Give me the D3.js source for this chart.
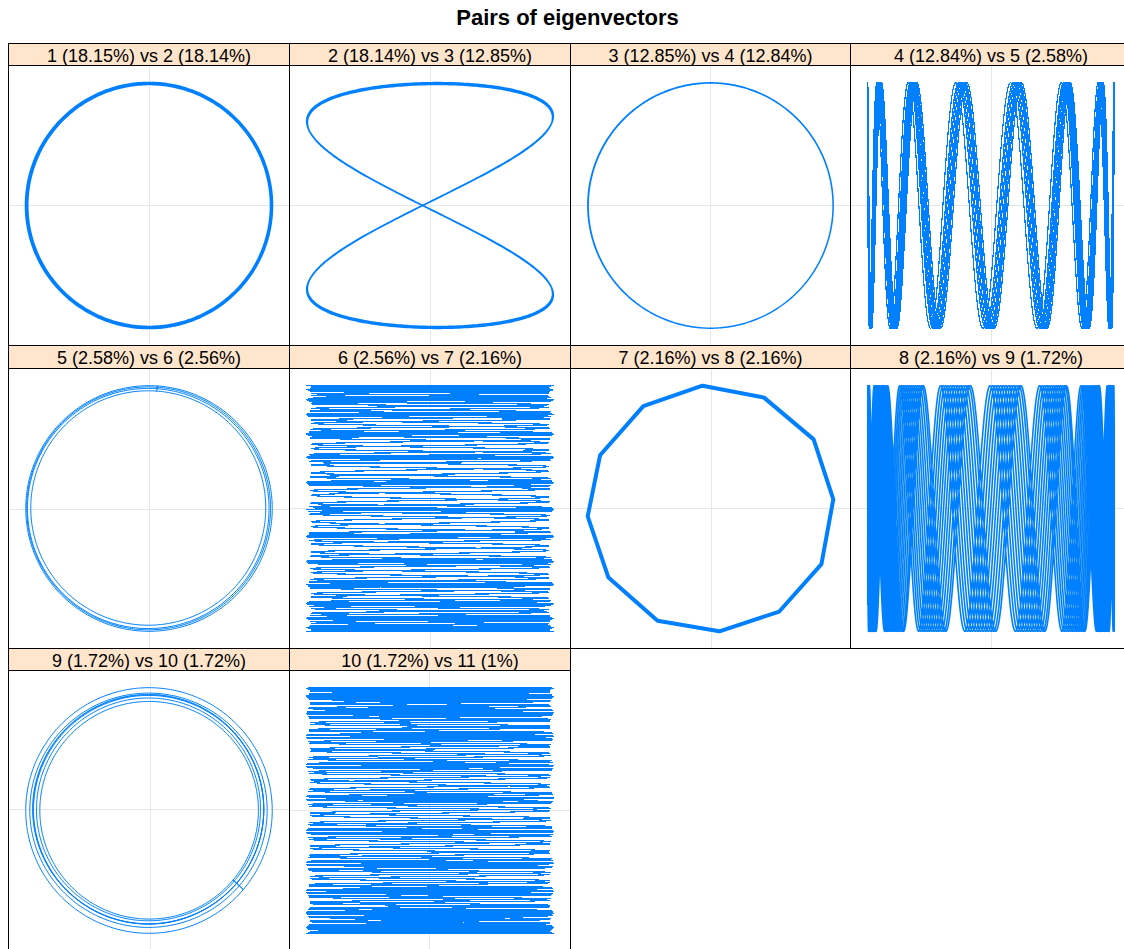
<!DOCTYPE html>
<html>
<head>
<meta charset="utf-8">
<title>Pairs of eigenvectors</title>
<script src="https://cdn.jsdelivr.net/npm/d3@7/dist/d3.min.js"></script>
<style>
  html, body { margin: 0; padding: 0; background: #ffffff; }
  svg { display: block; font-family: "Liberation Sans", Arial, Helvetica, sans-serif; }
</style>
</head>
<body>
<svg id="chart" width="1124" height="949"></svg>
<script>
// Share of each eigentriple, per cent
const contribution = [18.15, 18.14, 12.85, 12.84, 2.58, 2.56, 2.16, 2.16, 1.72, 1.72, 1];
// First eigenvector of each plotted pair (the second one is the next index)
const pairFirst = [1, 2, 3, 4, 5, 6, 7, 8, 9, 10];

// 1 vs 2: four turns of the leading sine/cosine pair (semi-axes and centre per turn)
const ring12Rx = [1.000, 0.991, 0.996, 0.987];
const ring12Ry = [0.999, 0.990, 0.995, 0.986];
const ring12Cx = [0.000, 0.002, -0.001, 0.001];
const ring12Cy = [0.000, -0.001, 0.002, 0.000];

// 2 vs 3: eigenvector 2 runs at twice the frequency of eigenvector 3 (amplitude per turn)
const eight23Ax = [1.000, 0.995];
const eight23Ay = [1.000, 0.986];
const eight23Shift = -0.06;

// 3 vs 4: one clean turn
const ring34Rx = [1.000, 0.996];
const ring34Ry = [1.000, 0.997];
const ring34Cx = [0.000, 0.001];
const ring34Cy = [0.000, -0.001];

// 4 vs 5: eigenvector 5 completes ~14 radians per radian of eigenvector 4; phase per sweep
const sweep45Ratio = 14.04;
const sweep45Phase = [-0.02, -0.66, -0.33, 0.30, -0.98, -0.15, 0.12, -0.50];

// 5 vs 6: turns with slightly different radii
const ring56Rx = [1.009, 0.989, 0.998, 0.962];
const ring56Ry = [0.987, 0.965, 0.976, 0.942];
const ring56Cx = [-0.007, -0.013, -0.010, -0.013];
const ring56Cy = [0.011, 0.011, 0.012, 0.015];

// 6 vs 7: fast eigenvector 6 against slow eigenvector 7, strands gathered into bands
const sweep67Ratio = 105;
const sweep67Phase = [0.0, 2.3];
const sweep67Bands = 28.6;
const sweep67BandPhase = 1.95;
const sweep67BandDepth = 0.85;
const sweep67EdgeDepth = 0.04;

// 7 vs 8: the twelve-step cycle (one value per step)
const poly78U7 = [-0.074, 0.424, 0.825, 0.984, 0.888, 0.547, 0.063, -0.437, -0.834, -1.002, -0.902, -0.552];
const poly78U8 = [0.989, 0.893, 0.557, 0.074, -0.446, -0.828, -0.987, -0.902, -0.555, -0.063, 0.429, 0.825];

// 8 vs 9: eigenvector 9 completes ~15 radians per radian of eigenvector 8; phase per sweep
const sweep89Ratio = 15.2;
const sweep89Phase = [1.15, 1.48, 1.80, 2.12, 2.46, 2.78, 3.10, 3.43, 3.75, 4.07, 4.40, 4.72, 4.98];

// 9 vs 10: turns with drifting radius and centre
const ring910Rx = [0.935, 0.962, 0.999, 0.937, 0.908, 0.886, 0.933];
const ring910Ry = [0.935, 0.955, 1.001, 0.935, 0.908, 0.887, 0.931];
const ring910Cx = [-0.014, -0.013, -0.009, -0.015, -0.013, -0.008, -0.012];
const ring910Cy = [0.000, -0.007, -0.009, 0.002, 0.000, -0.007, -0.002];

// 10 vs 11: fast eigenvector 10 against slow eigenvector 11
const sweep1011Ratio = 115;
const sweep1011Phase = [0.0, 1.7];
const sweep1011Bands = 23;
const sweep1011BandPhase = 0.7;
const sweep1011BandDepth = 0.5;
const sweep1011EdgeDepth = 0.03;

// ---------- traces of the eigenvector pairs ----------
const TAU = 2 * Math.PI;

function ringTrace(rx, ry, cx, cy, steps, start) {
  const pts = [];
  rx.forEach((_, l) => {
    for (let s = 0; s <= steps; s++) {
      const a = start + TAU * s / steps;
      pts.push([cx[l] + rx[l] * Math.cos(a), cy[l] + ry[l] * Math.sin(a)]);
    }
  });
  return pts;
}

function eightTrace(ax, ay, shift, steps) {
  const pts = [];
  ax.forEach((_, l) => {
    for (let s = 0; s <= steps; s++) {
      const a = TAU * s / steps;
      pts.push([ax[l] * Math.sin(2 * a + shift), ay[l] * Math.sin(a)]);
    }
  });
  return pts;
}

// slow eigenvector on x, fast one on y; sweeps alternate direction
function verticalSweep(ratio, phases, steps) {
  const pts = [];
  phases.forEach((ph, p) => {
    for (let s = 0; s <= steps; s++) {
      const t = s / steps;
      const u = p % 2 === 0 ? Math.PI * t : Math.PI * (1 - t);
      pts.push([Math.cos(u), Math.cos(ratio * u + ph)]);
    }
  });
  return pts;
}

// fast eigenvector on x, slow one on y
function horizontalSweep(ratio, phases, bands, bandPhase, bandDepth, edgeDepth, steps) {
  const pts = [];
  phases.forEach((ph, p) => {
    for (let s = 0; s <= steps; s++) {
      const t = s / steps;
      const u = p % 2 === 0 ? Math.PI * t : Math.PI * (1 - t);
      const w = u + bandDepth / bands * Math.sin(bands * u + bandPhase);
      const reach = 1 - edgeDepth * (1 + Math.cos(bands * u + bandPhase)) / 2;
      pts.push([reach * Math.cos(ratio * u + ph), Math.cos(w)]);
    }
  });
  return pts;
}

function cycleTrace(xs, ys) {
  const pts = xs.map((x, i) => [x, ys[i]]);
  pts.push(pts[0]);
  return pts;
}

const traces = [
  ringTrace(ring12Rx, ring12Ry, ring12Cx, ring12Cy, 360, 0),
  eightTrace(eight23Ax, eight23Ay, eight23Shift, 500),
  ringTrace(ring34Rx, ring34Ry, ring34Cx, ring34Cy, 360, 0),
  verticalSweep(sweep45Ratio, sweep45Phase, 700),
  ringTrace(ring56Rx, ring56Ry, ring56Cx, ring56Cy, 360, 1.5),
  horizontalSweep(sweep67Ratio, sweep67Phase, sweep67Bands, sweep67BandPhase, sweep67BandDepth, sweep67EdgeDepth, 7000),
  cycleTrace(poly78U7, poly78U8),
  verticalSweep(sweep89Ratio, sweep89Phase, 700),
  ringTrace(ring910Rx, ring910Ry, ring910Cx, ring910Cy, 360, -0.7),
  horizontalSweep(sweep1011Ratio, sweep1011Phase, sweep1011Bands, sweep1011BandPhase, sweep1011BandDepth, sweep1011EdgeDepth, 8000)
];

// line weight per panel (overlapping turns read as heavier lines)
const lineWidth = [2.1, 1.7, 1.2, 1.2, 1, 1.2, 4, 1.6, 1, 1.1];
// scribbled panels drawn without smoothing so single strands stay solid
const crisp = [false, false, false, true, false, true, false, false, false, true];

// ---------- layout ----------
const lineColor = "#0080ff";
const stripFill = "#ffe5cc";
const gridColor = "#e6e6e6";
const gridLeft = 8, gridTop = 43, nCols = 4;
const colW = 280.75, rowH = 302.3, stripH = 22.3;
const snap = v => Math.round(v) + 0.5;

const svg = d3.select("#chart");
const defs = svg.append("defs");

svg.append("text")
  .attr("x", gridLeft + nCols * colW / 2 - 2)
  .attr("y", 25)
  .attr("text-anchor", "middle")
  .attr("font-size", 22)
  .attr("font-weight", "bold")
  .attr("fill", "#000")
  .text("Pairs of eigenvectors");

const line = d3.line();

pairFirst.forEach((first, p) => {
  const col = p % nCols, row = Math.floor(p / nCols);
  const left = snap(gridLeft + col * colW);
  const right = snap(gridLeft + (col + 1) * colW);
  const top = snap(gridTop + row * rowH);
  const stripBottom = snap(gridTop + row * rowH + stripH);
  const bottom = snap(gridTop + (row + 1) * rowH);

  const pts = traces[p];
  const xExt = d3.extent(pts, d => d[0]);
  const yExt = d3.extent(pts, d => d[1]);
  const xPad = 0.07 * (xExt[1] - xExt[0]);
  const yPad = 0.07 * (yExt[1] - yExt[0]);
  const x = d3.scaleLinear().domain([xExt[0] - xPad, xExt[1] + xPad]).range([left, right]);
  const y = d3.scaleLinear().domain([yExt[0] - yPad, yExt[1] + yPad]).range([bottom, stripBottom]);

  const g = svg.append("g").attr("class", "panel");

  // strip
  g.append("rect")
    .attr("x", left).attr("y", top)
    .attr("width", right - left).attr("height", stripBottom - top)
    .attr("fill", stripFill);
  g.append("text")
    .attr("x", (left + right) / 2)
    .attr("y", top + 18.8)
    .attr("text-anchor", "middle")
    .attr("font-size", 18)
    .attr("fill", "#000")
    .text(`${first} (${contribution[first - 1]}%) vs ${first + 1} (${contribution[first]}%)`);

  // plotting region
  const clipId = `clip-${p}`;
  defs.append("clipPath").attr("id", clipId)
    .append("rect")
    .attr("x", left).attr("y", stripBottom)
    .attr("width", right - left).attr("height", bottom - stripBottom);

  const body = g.append("g").attr("clip-path", `url(#${clipId})`);
  body.append("line")
    .attr("x1", snap(x(0) - 0.5)).attr("x2", snap(x(0) - 0.5))
    .attr("y1", stripBottom).attr("y2", bottom)
    .attr("stroke", gridColor).attr("stroke-width", 1);
  body.append("line")
    .attr("x1", left).attr("x2", right)
    .attr("y1", snap(y(0) - 0.5)).attr("y2", snap(y(0) - 0.5))
    .attr("stroke", gridColor).attr("stroke-width", 1);

  line.x(d => x(d[0])).y(d => y(d[1]));
  body.append("path")
    .attr("d", line(pts))
    .attr("fill", "none")
    .attr("stroke", lineColor)
    .attr("stroke-width", lineWidth[p])
    .attr("stroke-linejoin", "round")
    .attr("stroke-linecap", "round")
    .attr("shape-rendering", crisp[p] ? "crispEdges" : "auto");

  // frames
  g.append("rect")
    .attr("x", left).attr("y", top)
    .attr("width", right - left).attr("height", stripBottom - top)
    .attr("fill", "none").attr("stroke", "#000").attr("stroke-width", 1);
  g.append("rect")
    .attr("x", left).attr("y", stripBottom)
    .attr("width", right - left).attr("height", bottom - stripBottom)
    .attr("fill", "none").attr("stroke", "#000").attr("stroke-width", 1);
});
</script>
</body>
</html>
